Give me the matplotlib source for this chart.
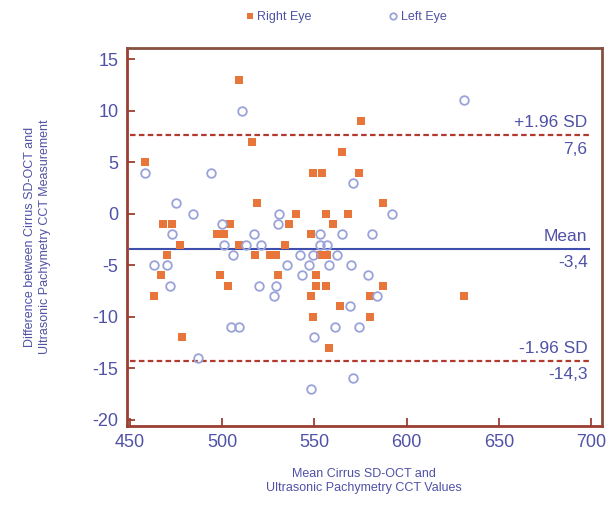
import matplotlib
matplotlib.use("Agg")
import matplotlib.pyplot as plt

plt.rcParams['font.family'] = ['Liberation Sans', 'DejaVu Sans']
plt.rcParams['axes.unicode_minus'] = False

right_x = [458, 509, 516, 519, 575, 565, 549, 554, 574, 587, 540, 556, 568,
           468, 473, 504, 536, 560, 497, 501, 548, 477, 509, 534, 470, 518,
           526, 529, 553, 557, 467, 499, 530, 551, 503, 551, 556, 587, 463,
           548, 580, 631, 564, 549, 580, 478, 558]
right_y = [5, 13, 7, 1, 9, 6, 4, 4, 4, 1, 0, 0, 0,
           -1, -1, -1, -1, -1, -2, -2, -2, -3, -3, -3, -4, -4,
           -4, -4, -4, -4, -6, -6, -6, -6, -7, -7, -7, -7, -8,
           -8, -8, -8, -9, -10, -10, -12, -13]

left_x = [458, 494, 511, 631, 571, 475, 484, 531, 592, 500, 530, 473, 517,
          553, 565, 581, 501, 513, 521, 553, 557, 506, 542, 549, 562, 463,
          470, 535, 547, 558, 570, 543, 579, 472, 520, 529, 528, 584, 569,
          505, 509, 561, 574, 550, 487, 548, 571]
left_y = [4, 4, 10, 11, 3, 1, 0, 0, 0, -1, -1, -2, -2,
          -2, -2, -2, -3, -3, -3, -3, -3, -4, -4, -4, -4, -5,
          -5, -5, -5, -5, -5, -6, -6, -7, -7, -7, -8, -8, -9,
          -11, -11, -11, -11, -12, -14, -17, -16]

mean_diff = -3.4
upper_loa = 7.6
lower_loa = -14.3

x_ticks = [450, 500, 550, 600, 650, 700]
y_ticks = [15, 10, 5, 0, -5, -10, -15, -20]

blue_txt = '#4f52a6'
orange = '#e8753a'
circ = '#9aa3d9'
spine_c = '#9b3f33'
top_c = '#86503f'
dash_c = '#b03a2e'
mean_c = '#3f4fae'

fig = plt.figure(figsize=(6.16, 5.25), dpi=100)
ax = fig.add_axes([0.206, 0.189, 0.771, 0.7196])

ax.plot(right_x, right_y, 's', color=orange, markersize=5.2, markeredgewidth=0,
        label='Right Eye', zorder=3)
ax.plot(left_x, left_y, 'o', markerfacecolor='none', markeredgecolor=circ,
        markersize=6.2, markeredgewidth=1.3, label='Left Eye', zorder=3)

x0, x1 = 450, 699
ax.plot([x0, x1], [upper_loa, upper_loa], color=dash_c, lw=1.6, ls=(0, (2.5, 1.5)), zorder=2)
ax.plot([x0, x1], [lower_loa, lower_loa], color=dash_c, lw=1.6, ls=(0, (2.5, 1.5)), zorder=2)
ax.plot([x0, x1], [mean_diff, mean_diff], color=mean_c, lw=1.5, zorder=2)

tfs = 12.5
ax.text(x1 - 1, upper_loa + 0.5, '+1.96 SD', ha='right', va='bottom', color=blue_txt, fontsize=tfs)
ax.text(x1 - 1, upper_loa - 0.6, '7,6', ha='right', va='top', color=blue_txt, fontsize=tfs)
ax.text(x1 - 1, mean_diff + 0.5, 'Mean', ha='right', va='bottom', color=blue_txt, fontsize=tfs)
ax.text(x1 - 1, mean_diff - 0.6, '-3,4', ha='right', va='top', color=blue_txt, fontsize=tfs)
ax.text(x1 - 1, lower_loa + 0.5, '-1.96 SD', ha='right', va='bottom', color=blue_txt, fontsize=tfs)
ax.text(x1 - 1, lower_loa - 0.6, '-14,3', ha='right', va='top', color=blue_txt, fontsize=tfs)

ax.set_xlim(448.4, 705.7)
ax.set_ylim(-20.6, 16.1)
ax.set_xticks(x_ticks)
ax.set_yticks(y_ticks)
ax.tick_params(direction='in', length=6, width=1.3, color=spine_c,
               labelcolor=blue_txt, labelsize=13, pad=6)
for s in ax.spines.values():
    s.set_color(spine_c)
    s.set_linewidth(2.0)
ax.spines['top'].set_color(top_c)
ax.spines['right'].set_color(top_c)

ax.set_xlabel('Mean Cirrus SD-OCT and\nUltrasonic Pachymetry CCT Values',
              color=blue_txt, fontsize=9, labelpad=12, linespacing=1.3)
ax.set_ylabel('Difference between Cirrus SD-OCT and\nUltrasonic Pachymetry CCT Measurement',
              color=blue_txt, fontsize=9, labelpad=30, linespacing=1.3)

fig.legend(loc='upper center', bbox_to_anchor=(0.56, 1.0), ncol=2, frameon=False,
           fontsize=9, labelcolor=blue_txt, handletextpad=0.1, columnspacing=6,
           markerscale=0.75, handlelength=1.0)

fig.savefig('out.png', dpi=100, facecolor='white')
